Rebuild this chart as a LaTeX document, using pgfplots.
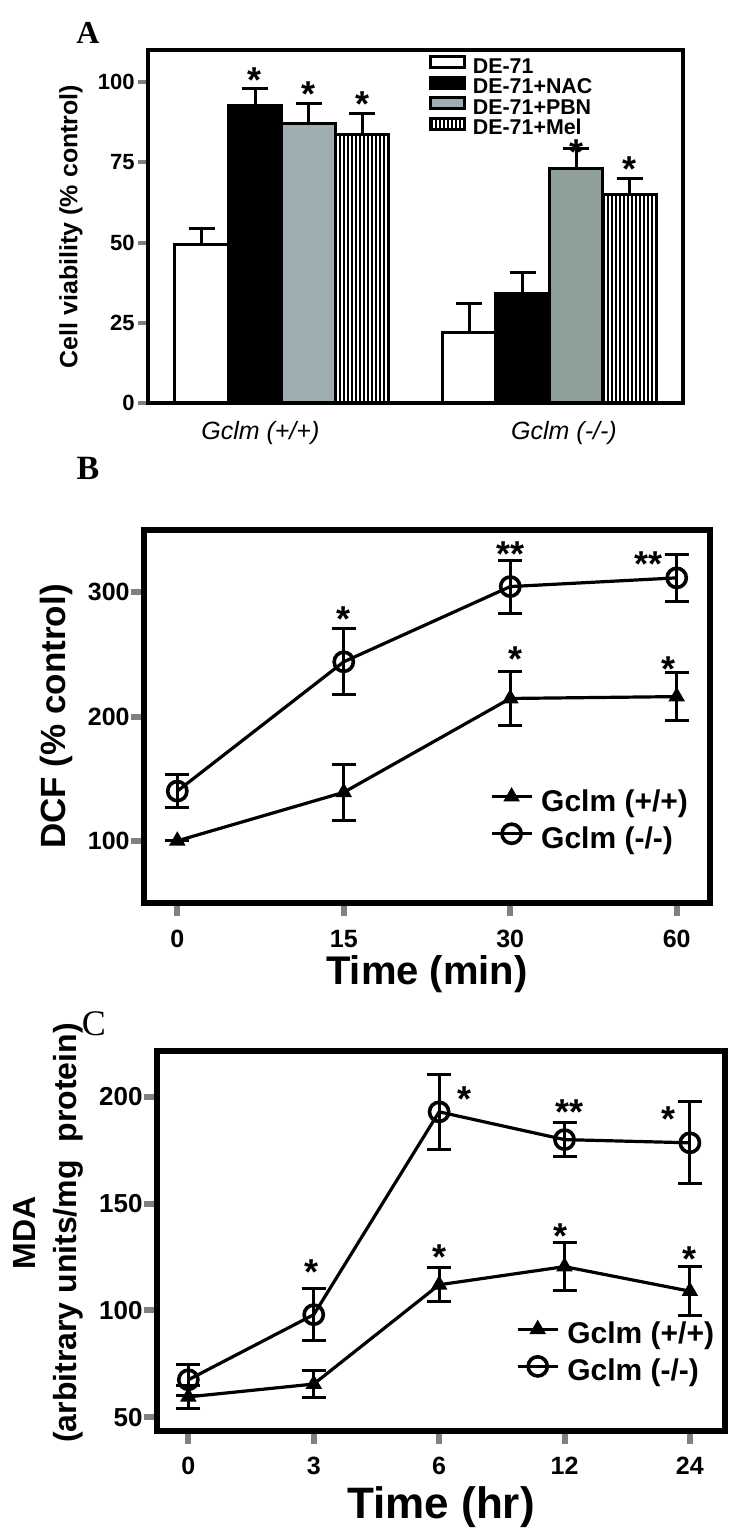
\documentclass[border=0pt]{standalone}
\usepackage{fontspec}
\setmainfont{Liberation Sans}
\newfontfamily\serif{Liberation Serif}
\usepackage{pgfplots}
\pgfplotsset{compat=1.18}
\usetikzlibrary{patterns.meta}

\definecolor{pbn}{HTML}{9EADB1}
\definecolor{pbndark}{HTML}{8E9F9C}

\newcommand{\fs}[1]{\fontsize{#1}{#1}\selectfont}

\pgfplotsset{
  /pgf/number format/assume math mode=true,
  panel/.style={
    scale only axis, anchor=north west,
    tick align=outside, tick pos=left,
    clip=false,
  },
  legbox/.style={legend image code/.code={
    \draw[##1,line width=1.5pt] (0pt,-0.5pt) rectangle (17pt,5pt);}},
  legline/.style={legend image code/.code={
    \draw[mark repeat=2,mark phase=2,##1] plot coordinates {(0pt,3.5pt) (10pt,3.5pt) (20pt,3.5pt)};}},
  ebars/.style={error bars/.cd, y dir=both, y explicit,
    error bar style={line width=1.5pt},
    error mark options={rotate=90, line width=1.5pt, mark size=6pt}},
  wt/.style={black, line width=1.6pt, mark=triangle*, mark size=3.2pt,
    mark options={solid}, legline, ebars},
  ko/.style={black, line width=1.6pt, mark=o, mark size=4.8pt,
    mark options={line width=1.8pt}, legline, ebars},
}
\tikzset{star/.style={font=\bfseries\fs{18}, anchor=north, inner sep=0pt}}

\begin{document}
\begin{tikzpicture}
\useasboundingbox (0,0) rectangle (375pt,-764.5pt);

% panel letters
\node[font=\serif\bfseries\fs{16}] at (44pt,-16.5pt) {A};
\node[font=\serif\bfseries\fs{17}] at (44pt,-234pt) {B};
\node[font=\serif\fs{18}] at (47pt,-512pt) {C};

% ---------- A: cell viability ----------
\begin{axis}[panel,
  at={(74pt,-25pt)}, width=267.5pt, height=176.5pt,
  ybar, bar width=0.2,
  xmin=-0.5, xmax=1.5, ymin=0, ymax=110,
  ytick={0,25,50,75,100},
  xtick={-0.08,1.055}, xticklabels={Gclm (+/+),Gclm (-/-)},
  x tick style={draw=none},
  xticklabel style={font=\itshape\fs{12.5}, inner sep=0pt, yshift=-4pt},
  yticklabel style={font=\bfseries\fs{11}, inner sep=1.5pt},
  axis line style={line width=2.2pt},
  y tick style={line width=2pt},
  major tick length=5pt,
  ylabel={Cell viability (\% control)},
  ylabel style={font=\bfseries\fs{12.5}, at={(axis description cs:-0.144,0.5)}, anchor=center},
  legend style={at={(0.525,0.985)}, anchor=north west, draw=none, fill=none,
    inner sep=0pt, outer sep=0pt,
    font=\bfseries\fs{10.7}, row sep=0pt, column sep=3.5pt,
    nodes={inner sep=0pt, text height=7.8pt, text depth=1.2pt}},
  legend cell align=left,
  error bars/y dir=plus, error bars/y explicit,
  error bars/error bar style={line width=1.5pt},
  error bars/error mark options={rotate=90, line width=1.5pt, mark size=6.5pt},
]
\addplot[fill=white, draw=black, line width=1.5pt, bar shift=-0.3, legbox]
  coordinates {(0,49.5) +- (0,5.0) (1,21.9) +- (0,9.0)};
\addplot[fill=black, draw=black, line width=1.5pt, bar shift=-0.1, legbox]
  coordinates {(0,92.7) +- (0,5.2) (1,34.1) +- (0,6.5)};
\addplot[fill=pbn, draw=black, line width=1.5pt, bar shift=0.1, legbox]
  coordinates {(0,87.2) +- (0,6.2)};
\addplot[pattern={Lines[angle=90,distance=2pt,line width=0.7pt]}, draw=black,
  line width=1.5pt, bar shift=0.3, legbox]
  coordinates {(0,83.7) +- (0,6.4) (1,65.1) +- (0,4.9)};
\addplot[fill=pbndark, draw=black, line width=1.5pt, bar shift=0.1, forget plot]
  coordinates {(1,73.0) +- (0,6.3)};
\legend{DE-71,DE-71+NAC,DE-71+PBN,DE-71+Mel}
\node[star] at (axis cs:-0.1,104.7) {*};
\node[star] at (axis cs:0.1,100.3) {*};
\node[star] at (axis cs:0.3,97.2) {*};
\node[star] at (axis cs:1.1,82.2) {*};
\node[star] at (axis cs:1.3,77.0) {*};
\end{axis}

% ---------- B: DCF ----------
\begin{axis}[panel,
  at={(72pt,-265pt)}, width=283pt, height=186.5pt,
  xmin=-0.2, xmax=3.2, ymin=50, ymax=350,
  xtick={0,1,2,3}, xticklabels={0,15,30,60},
  ytick={100,200,300},
  axis line style={line width=3pt},
  major tick style={line width=3pt},
  major tick length=6.5pt,
  ticklabel style={font=\bfseries\fs{12.5}},
  yticklabel style={inner sep=0.5pt},
  xticklabel style={yshift=-3.5pt},
  xlabel={Time (min)}, ylabel={DCF (\% control)},
  xlabel style={font=\bfseries\fs{20}, at={(axis description cs:0.5,-0.19)}, anchor=center},
  ylabel style={font=\bfseries\fs{17.5}, at={(axis description cs:-0.154,0.5)}, anchor=center},
  legend style={at={(0.60,0.317)}, anchor=north west, draw=none, fill=none,
    font=\bfseries\fs{15}, row sep=3pt, column sep=4pt,
    nodes={inner sep=0pt, text height=11pt, text depth=3.5pt}},
  legend cell align=left,
]
\addplot[wt] coordinates {
  (0,100) +- (0,0)
  (1,139) +- (0,22.5)
  (2,214.5) +- (0,21.5)
  (3,216) +- (0,19.5)
};
\addplot[ko] coordinates {
  (0,140) +- (0,13.5)
  (1,244) +- (0,26.5)
  (2,304.5) +- (0,21.3)
  (3,311.5) +- (0,18.8)
};
\legend{Gclm (+/+),Gclm (-/-)}
\node[star] at (axis cs:1,289) {*};
\node[star] at (axis cs:2,341) {**};
\node[star] at (axis cs:2.83,333) {**};
\node[star] at (axis cs:2.03,256.6) {*};
\node[star] at (axis cs:2.95,248.6) {*};
\end{axis}

% ---------- C: MDA ----------
\begin{axis}[panel,
  at={(78.5pt,-525.5pt)}, width=284pt, height=190pt,
  xmin=-0.25, xmax=4.28, ymin=43.5, ymax=221.5,
  xtick={0,1,2,3,4}, xticklabels={0,3,6,12,24},
  ytick={50,100,150,200},
  axis line style={line width=3pt},
  major tick style={line width=3pt},
  major tick length=6.5pt,
  xticklabel style={font=\bfseries\fs{12.5}, yshift=-3pt},
  yticklabel style={font=\bfseries\fs{13}, inner sep=0.5pt},
  xlabel={Time (hr)},
  ylabel={MDA\\(arbitrary units/mg\ \ protein)},
  xlabel style={font=\bfseries\fs{22}, at={(axis description cs:0.5,-0.2)}, anchor=center},
  ylabel style={font=\bfseries\fontsize{16}{20.5}\selectfont, align=center,
    at={(axis description cs:-0.192,0.521)}, anchor=center},
  legend style={at={(0.621,0.299)}, anchor=north west, draw=none, fill=none,
    font=\bfseries\fs{15}, row sep=3pt, column sep=4pt,
    nodes={inner sep=0pt, text height=11pt, text depth=3.5pt}},
  legend cell align=left,
]
\addplot[wt] coordinates {
  (0,59.5) +- (0,5.5)
  (1,65.5) +- (0,6.2)
  (2,112) +- (0,7.9)
  (3,120.5) +- (0,11.4)
  (4,109) +- (0,11.6)
};
\addplot[ko] coordinates {
  (0,67.5) +- (0,7.2)
  (1,98) +- (0,12.2)
  (2,193) +- (0,17.7)
  (3,180) +- (0,7.9)
  (4,178.5) +- (0,19.2)
};
\legend{Gclm (+/+),Gclm (-/-)}
\node[star] at (axis cs:0.98,124) {*};
\node[star] at (axis cs:2.2,205) {*};
\node[star] at (axis cs:3.04,199) {**};
\node[star] at (axis cs:3.83,195.7) {*};
\node[star] at (axis cs:2.0,131) {*};
\node[star] at (axis cs:2.97,141) {*};
\node[star] at (axis cs:4.0,130) {*};
\end{axis}
\end{tikzpicture}
\end{document}
